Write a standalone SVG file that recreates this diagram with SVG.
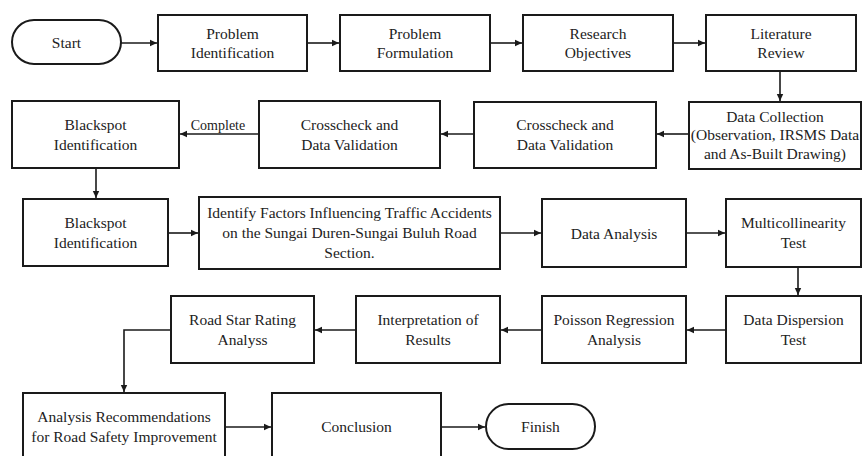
<svg xmlns="http://www.w3.org/2000/svg" width="863" height="456" viewBox="0 0 863 456">
<style>
.box{fill:#fff;stroke:#1a1a1a;stroke-width:2}
.t{font-family:"Liberation Serif","DejaVu Serif",serif;font-size:15.5px;fill:#222;text-anchor:middle}
.lbl{font-family:"Liberation Serif","DejaVu Serif",serif;font-size:14px;fill:#222;text-anchor:middle}
.c{fill:none;stroke:#1a1a1a;stroke-width:1.6}
</style>
<defs>
<marker id="ah" markerUnits="userSpaceOnUse" markerWidth="8" markerHeight="8" refX="7" refY="4" orient="auto">
<path d="M0,0.8 L7,4 L0,7.2 Z" fill="#1a1a1a"/>
</marker>
</defs>
<rect width="863" height="456" fill="#fff"/>
<g id="connectors">
<path class="c" d="M121,43 H157" marker-end="url(#ah)"/>
<path class="c" d="M307,43 H339" marker-end="url(#ah)"/>
<path class="c" d="M490,43 H522" marker-end="url(#ah)"/>
<path class="c" d="M673,43 H705" marker-end="url(#ah)"/>
<path class="c" d="M780,71 V101" marker-end="url(#ah)"/>
<path class="c" d="M689,134 H657" marker-end="url(#ah)"/>
<path class="c" d="M474,134 H441" marker-end="url(#ah)"/>
<path class="c" d="M259,134 H180" marker-end="url(#ah)"/>
<text class="lbl" x="218" y="130">Complete</text>
<path class="c" d="M96,168 V198" marker-end="url(#ah)"/>
<path class="c" d="M168,233 H198" marker-end="url(#ah)"/>
<path class="c" d="M500,233 H541" marker-end="url(#ah)"/>
<path class="c" d="M686,233 H725" marker-end="url(#ah)"/>
<path class="c" d="M798,267 V295" marker-end="url(#ah)"/>
<path class="c" d="M726,330 H687" marker-end="url(#ah)"/>
<path class="c" d="M542,330 H501" marker-end="url(#ah)"/>
<path class="c" d="M356,330 H315" marker-end="url(#ah)"/>
<path class="c" d="M171,330 H124 V392" marker-end="url(#ah)"/>
<path class="c" d="M225,427 H271" marker-end="url(#ah)"/>
<path class="c" d="M441,427 H485" marker-end="url(#ah)"/>
</g>
<g id="start"><rect class="box" x="12" y="20" width="109" height="44" rx="22"/><text class="t" x="66.5" y="48">Start</text></g>
<g id="problem-identification"><rect class="box" x="158" y="15" width="149" height="56"/><text class="t" x="232.5" y="38.5">Problem</text><text class="t" x="232.5" y="58">Identification</text></g>
<g id="problem-formulation"><rect class="box" x="340" y="15" width="150" height="56"/><text class="t" x="415" y="38.5">Problem</text><text class="t" x="415" y="58">Formulation</text></g>
<g id="research-objectives"><rect class="box" x="523" y="15" width="150" height="56"/><text class="t" x="598" y="38.5">Research</text><text class="t" x="598" y="58">Objectives</text></g>
<g id="literature-review"><rect class="box" x="706" y="15" width="150" height="56"/><text class="t" x="781" y="38.5">Literature</text><text class="t" x="781" y="58">Review</text></g>
<g id="data-collection"><rect class="box" x="689" y="102" width="172" height="67"/><text class="t" x="775" y="122">Data Collection</text><text class="t" x="775" y="140">(Observation, IRSMS Data</text><text class="t" x="775" y="158.5">and As-Built Drawing)</text></g>
<g id="crosscheck-2"><rect class="box" x="474" y="102" width="182" height="66"/><text class="t" x="565" y="130">Crosscheck and</text><text class="t" x="565" y="149.5">Data Validation</text></g>
<g id="crosscheck-1"><rect class="box" x="259" y="101" width="181" height="67"/><text class="t" x="349.5" y="130">Crosscheck and</text><text class="t" x="349.5" y="149.5">Data Validation</text></g>
<g id="blackspot-1"><rect class="box" x="12" y="101" width="167" height="67"/><text class="t" x="95.5" y="130">Blackspot</text><text class="t" x="95.5" y="149.5">Identification</text></g>
<g id="blackspot-2"><rect class="box" x="23" y="199" width="145" height="67"/><text class="t" x="95.5" y="228">Blackspot</text><text class="t" x="95.5" y="248">Identification</text></g>
<g id="identify-factors"><rect class="box" x="199" y="197" width="301" height="72"/><text class="t" x="349.5" y="218">Identify Factors Influencing Traffic Accidents</text><text class="t" x="349.5" y="238">on the Sungai Duren-Sungai Buluh Road</text><text class="t" x="349.5" y="258">Section.</text></g>
<g id="data-analysis"><rect class="box" x="542" y="199" width="144" height="68"/><text class="t" x="614" y="238.5">Data Analysis</text></g>
<g id="multicollinearity"><rect class="box" x="726" y="199" width="135" height="68"/><text class="t" x="793.5" y="228">Multicollinearity</text><text class="t" x="793.5" y="248">Test</text></g>
<g id="data-dispersion"><rect class="box" x="726" y="296" width="135" height="67"/><text class="t" x="793.5" y="325">Data Dispersion</text><text class="t" x="793.5" y="345">Test</text></g>
<g id="poisson"><rect class="box" x="542" y="296" width="144" height="67"/><text class="t" x="614" y="325">Poisson Regression</text><text class="t" x="614" y="345">Analysis</text></g>
<g id="interpretation"><rect class="box" x="356" y="296" width="144" height="67"/><text class="t" x="428" y="325">Interpretation of</text><text class="t" x="428" y="345">Results</text></g>
<g id="road-star"><rect class="box" x="171" y="296" width="143" height="67"/><text class="t" x="242.5" y="325">Road Star Rating</text><text class="t" x="242.5" y="345">Analyss</text></g>
<g id="recommendations"><rect class="box" x="23" y="393" width="202" height="68"/><text class="t" x="124" y="422">Analysis Recommendations</text><text class="t" x="124" y="442">for Road Safety Improvement</text></g>
<g id="conclusion"><rect class="box" x="272" y="393" width="169" height="68"/><text class="t" x="356.5" y="432">Conclusion</text></g>
<g id="finish"><rect class="box" x="486" y="404" width="109" height="45" rx="22.5"/><text class="t" x="540.5" y="432">Finish</text></g>
</svg>
